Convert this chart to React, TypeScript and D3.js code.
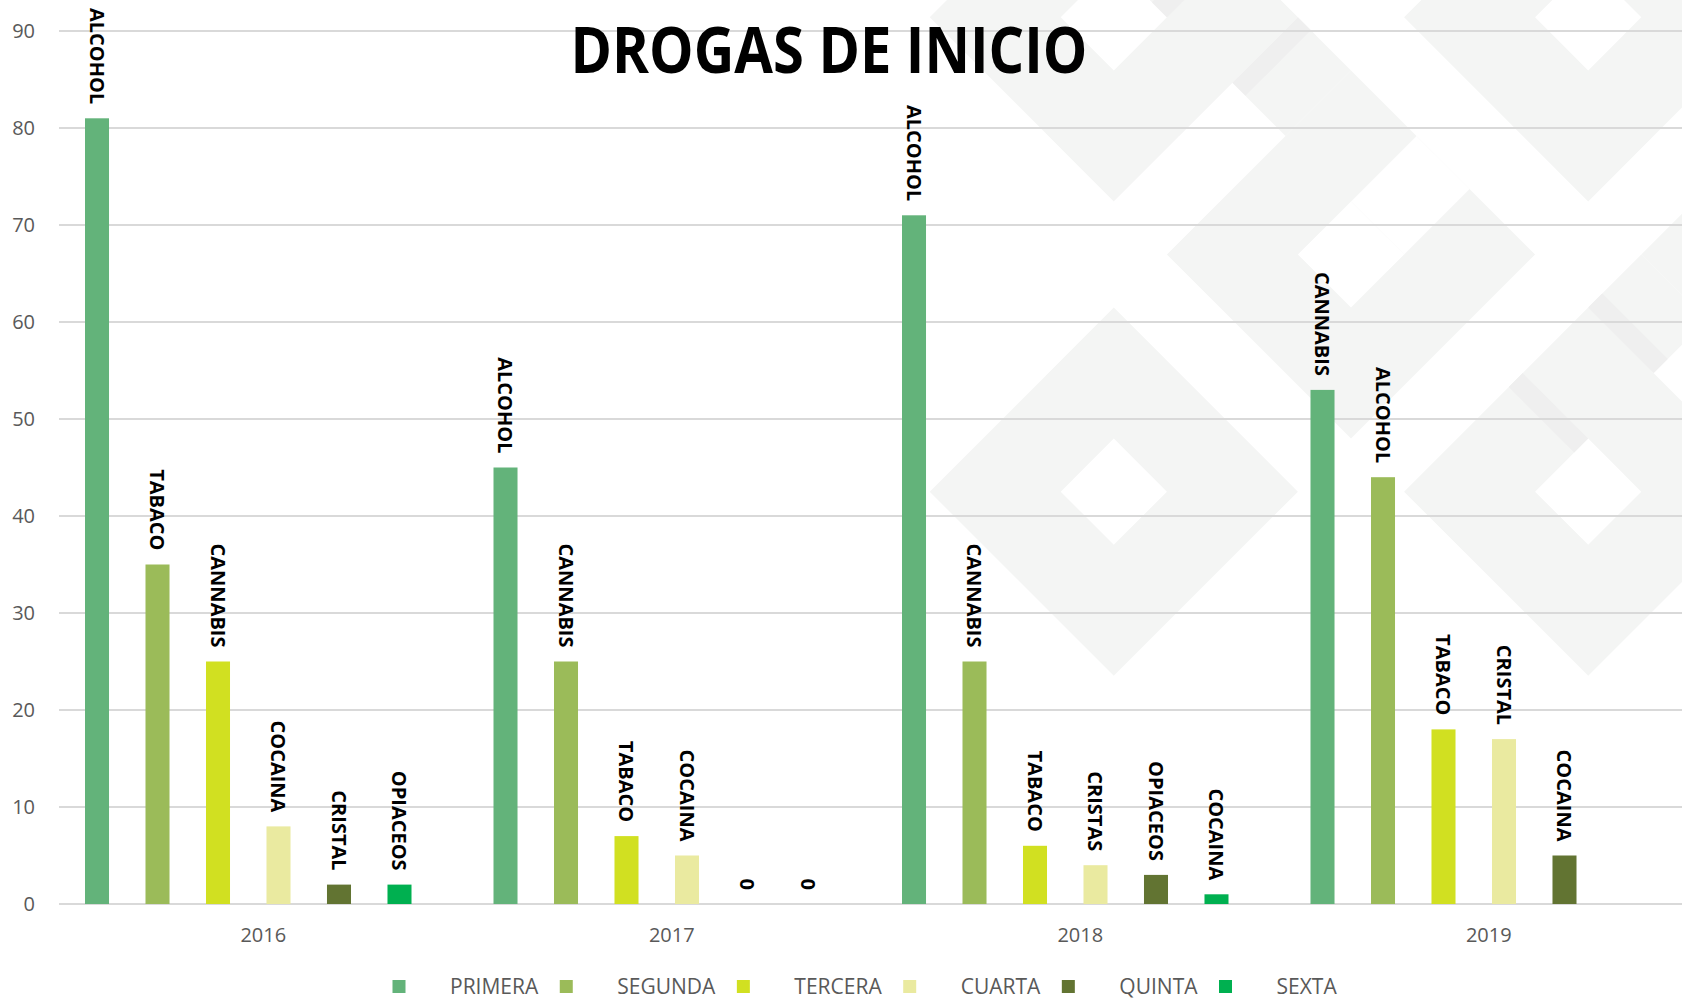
import React, { useEffect, useRef } from "react";
import * as d3 from "d3";

// ---- data ----
const years = ["2016", "2017", "2018", "2019"];
const series = ["PRIMERA", "SEGUNDA", "TERCERA", "CUARTA", "QUINTA", "SEXTA"];
const seriesColors = ["#63b37a", "#9bbb59", "#d1e021", "#eaeaa0", "#627432", "#00b050"];

const primera = [81, 45, 71, 53];
const segunda = [35, 25, 25, 44];
const tercera = [25, 7, 6, 18];
const cuarta = [8, 5, 4, 17];
const quinta = [2, 0, 3, 5];
const sexta = [2, 0, 1, null];

const primeraDrug = ["ALCOHOL", "ALCOHOL", "ALCOHOL", "CANNABIS"];
const segundaDrug = ["TABACO", "CANNABIS", "CANNABIS", "ALCOHOL"];
const terceraDrug = ["CANNABIS", "TABACO", "TABACO", "TABACO"];
const cuartaDrug = ["COCAINA", "COCAINA", "CRISTAS", "CRISTAL"];
const quintaDrug = ["CRISTAL", null, "OPIACEOS", "COCAINA"];
const sextaDrug = ["OPIACEOS", null, "COCAINA", null];

const yTicks = [0, 10, 20, 30, 40, 50, 60, 70, 80, 90];

const values = [primera, segunda, tercera, cuarta, quinta, sexta];
const drugs = [primeraDrug, segundaDrug, terceraDrug, cuartaDrug, quintaDrug, sextaDrug];

const W = 1682;
const H = 1000;
const FONT = "'Open Sans', 'DejaVu Sans', sans-serif";

// background watermark: lattice of diagonal bands, u = x + y, v = x - y
const BW = 131;
const bu = (k: number) => 947 + 237.2 * k;
const bv = (k: number) => 438 + 237.2 * k;
const rings = [
  [0, 1],
  [1, 0],
  [1, 1],
  [1, 2],
  [2, 1],
  [2, 2],
];

const uvPath = (u1: number, u2: number, v1: number, v2: number) => {
  const pts = [
    [u1, v1],
    [u1, v2],
    [u2, v2],
    [u2, v1],
  ].map(([u, v]) => [(u + v) / 2, (u - v) / 2]);
  return "M" + pts.map((p) => p.join(",")).join("L") + "Z";
};

const Chart = () => {
  const ref = useRef<SVGSVGElement>(null);

  useEffect(() => {
    const svg = d3.select(ref.current);
    svg.selectAll("*").remove();

    // watermark
    const bgFill = "#f4f5f4";
    const bg = svg.append("g");
    rings.forEach(([p, q]) => {
      const outer = uvPath(bu(2 * p), bu(2 * p + 1) + BW, bv(2 * q), bv(2 * q + 1) + BW);
      const inner = uvPath(bu(2 * p) + BW, bu(2 * p + 1), bv(2 * q) + BW, bv(2 * q + 1));
      bg.append("path").attr("d", outer + inner).attr("fill-rule", "evenodd").attr("fill", bgFill);
    });
    // connectors between rings
    bg.append("path").attr("d", uvPath(bu(1) + BW, bu(2), bv(3), bv(3) + BW)).attr("fill", bgFill);
    bg.append("path").attr("d", uvPath(bu(4), bu(4) + BW, bv(3) + BW, bv(4))).attr("fill", bgFill);
    // openings in the middle ring
    bg.append("path").attr("d", uvPath(bu(2) + BW, bu(3), bv(3), bv(3) + BW)).attr("fill", "#ffffff");
    bg.append("path").attr("d", uvPath(bu(1) + BW, bu(2), bv(2), bv(2) + BW)).attr("fill", "#ffffff");
    // shadows where bands cross
    const shade = "#efefef";
    bg.append("path").attr("d", uvPath(bu(1) + BW, bu(1) + BW + 26, bv(3), bv(3) + BW)).attr("fill", shade);
    bg.append("path").attr("d", uvPath(bu(1) - 30, bu(1), bv(3), bv(3) + BW)).attr("fill", shade);
    bg.append("path").attr("d", uvPath(bu(4), bu(4) + BW, bv(3) - 28, bv(3))).attr("fill", shade);
    bg.append("path").attr("d", uvPath(bu(4), bu(4) + BW, bv(3) + BW, bv(3) + BW + 28)).attr("fill", shade);

    // scales
    const y = d3.scaleLinear().domain([0, 90]).range([904, 31]);
    const x0 = d3.scaleBand().domain(years).range([59, 1693]);
    const x1 = d3.scaleBand().domain(series).range([26, 352.5]).paddingInner(0.603).paddingOuter(0);

    // gridlines
    svg
      .append("g")
      .selectAll("line")
      .data(yTicks)
      .enter()
      .append("line")
      .attr("x1", 59)
      .attr("x2", W)
      .attr("y1", (d) => y(d))
      .attr("y2", (d) => y(d))
      .attr("stroke", "#d9d9d9")
      .attr("stroke-width", 2);

    // y tick labels
    svg
      .append("g")
      .selectAll("text")
      .data(yTicks)
      .enter()
      .append("text")
      .attr("x", 35)
      .attr("y", (d) => y(d))
      .attr("dy", "0.36em")
      .attr("text-anchor", "end")
      .attr("font-family", FONT)
      .attr("font-size", 20)
      .attr("fill", "#595959")
      .text((d) => d);

    // bars
    const cells: { year: string; s: string; i: number; v: number; label: string }[] = [];
    series.forEach((s, i) => {
      years.forEach((yr, k) => {
        const v = values[i][k];
        if (v === null || v === undefined) return;
        cells.push({ year: yr, s, i, v, label: drugs[i][k] ?? String(v) });
      });
    });

    svg
      .append("g")
      .selectAll("rect")
      .data(cells)
      .enter()
      .append("rect")
      .attr("x", (d) => x0(d.year)! + x1(d.s)!)
      .attr("y", (d) => y(d.v))
      .attr("width", x1.bandwidth())
      .attr("height", (d) => y(0) - y(d.v))
      .attr("fill", (d) => seriesColors[d.i]);

    // rotated bar labels
    svg
      .append("g")
      .selectAll("text")
      .data(cells)
      .enter()
      .append("text")
      .attr(
        "transform",
        (d) => `translate(${x0(d.year)! + x1(d.s)! + x1.bandwidth() / 2},${y(d.v) - 14}) rotate(90)`
      )
      .attr("dy", "0.36em")
      .attr("text-anchor", "end")
      .attr("font-family", FONT)
      .attr("font-weight", "bold")
      .attr("font-size", 20)
      .attr("fill", "#000")
      .text((d) => d.label);

    // category labels
    svg
      .append("g")
      .selectAll("text")
      .data(years)
      .enter()
      .append("text")
      .attr("x", (d) => x0(d)! + x0.bandwidth() / 2)
      .attr("y", 942)
      .attr("text-anchor", "middle")
      .attr("font-family", FONT)
      .attr("font-size", 20)
      .attr("fill", "#595959")
      .text((d) => d);

    // title
    svg
      .append("text")
      .attr("x", 829)
      .attr("y", 73)
      .attr("text-anchor", "middle")
      .attr("font-family", FONT)
      .attr("font-weight", "bold")
      .attr("font-size", 64)
      .attr("textLength", 517)
      .attr("lengthAdjust", "spacingAndGlyphs")
      .attr("fill", "#000")
      .text("DROGAS DE INICIO");

    // legend
    const legend = svg.append("g");
    let lx = 399;
    series.forEach((s, i) => {
      legend
        .append("rect")
        .attr("x", lx - 6.5)
        .attr("y", 980)
        .attr("width", 13)
        .attr("height", 13)
        .attr("fill", seriesColors[i]);
      const t = legend
        .append("text")
        .attr("x", lx + 51)
        .attr("y", 994)
        .attr("font-family", FONT)
        .attr("font-size", 21)
        .attr("fill", "#595959")
        .text(s);
      const tw = (t.node() as SVGTextElement).getComputedTextLength();
      lx = lx + 51 + tw + 28;
    });
  }, []);

  return (
    <svg
      ref={ref}
      width={W}
      height={H}
      style={{ position: "absolute", left: 0, top: 0, display: "block", background: "#fff" }}
    />
  );
};

export default function App() {
  return <Chart />;
}
